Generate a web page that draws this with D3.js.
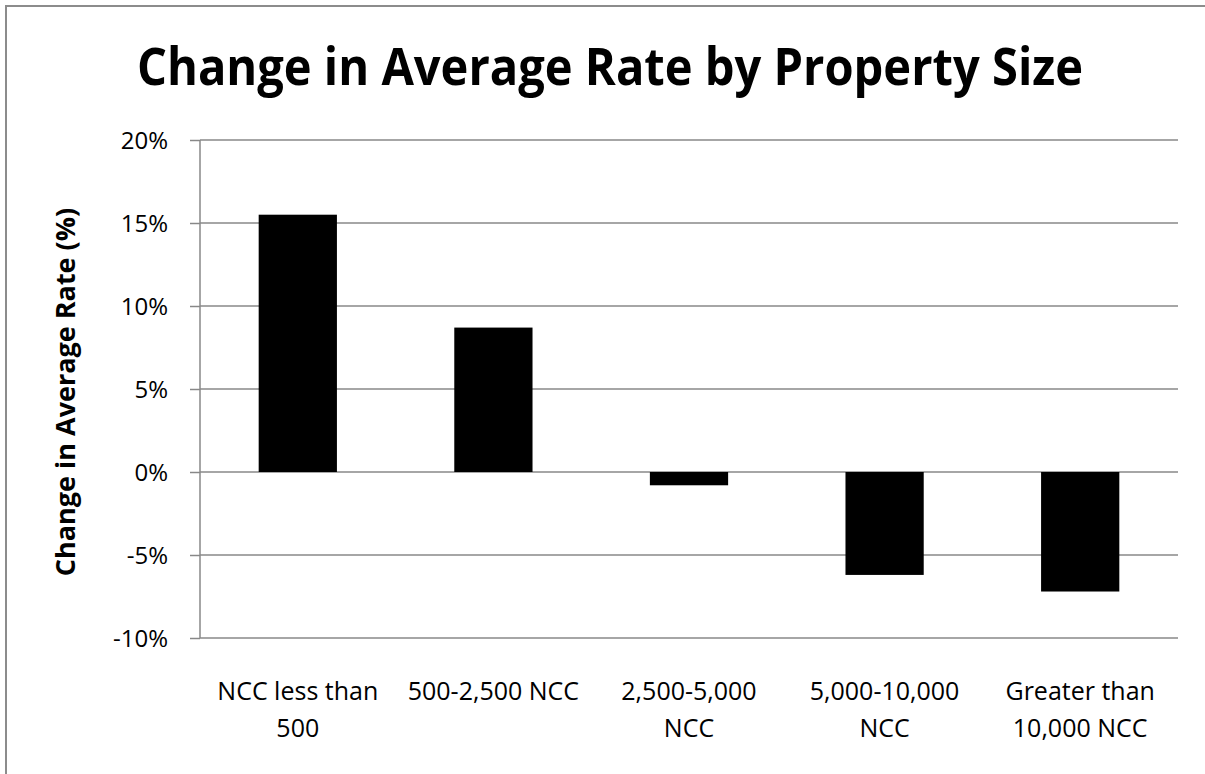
<!DOCTYPE html>
<html>
<head>
<meta charset="utf-8">
<script src="https://cdn.jsdelivr.net/npm/d3@7"></script>
<style>
  html, body { margin: 0; padding: 0; background: #fff; overflow: hidden; }
  svg { display: block; }
</style>
</head>
<body>
<svg id="chart" width="1205" height="774"></svg>
<script>
// Property size groups (each label split into its two display lines)
const categories = [
  ["NCC less than", "500"],
  ["500-2,500 NCC", ""],
  ["2,500-5,000", "NCC"],
  ["5,000-10,000", "NCC"],
  ["Greater than", "10,000 NCC"]
];
// Change in average rate, percent
const changePct = [15.5, 8.7, -0.8, -6.2, -7.2];
// Y axis ticks, percent
const yTicks = [-10, -5, 0, 5, 10, 15, 20];

const svg = d3.select("#chart");
const W = 1205, H = 774;
const plot = { left: 200, right: 1178, top: 140, bottom: 638 };
const gridColor = "#888888";
const font = "'Open Sans', 'Noto Sans', sans-serif";

// chart area frame: top and left edges
svg.append("path")
  .attr("d", `M6,${H}V6H${W}`)
  .attr("fill", "none").attr("stroke", "#8c8c8c").attr("stroke-width", 2);

const x = d3.scaleBand()
  .domain(d3.range(categories.length))
  .range([plot.left, plot.right])
  .paddingInner(0.6)
  .paddingOuter(0.3);

const y = d3.scaleLinear()
  .domain([d3.min(yTicks), d3.max(yTicks)])
  .range([plot.bottom, plot.top]);

// title
svg.append("text")
  .attr("x", 610).attr("y", 85)
  .attr("text-anchor", "middle")
  .attr("font-family", font)
  .attr("font-weight", 700)
  .attr("font-size", 52)
  .attr("textLength", 946)
  .attr("lengthAdjust", "spacingAndGlyphs")
  .attr("fill", "#000")
  .text("Change in Average Rate by Property Size");

// horizontal gridlines
svg.append("g")
  .selectAll("line")
  .data(yTicks)
  .join("line")
  .attr("x1", plot.left).attr("x2", plot.right)
  .attr("y1", d => y(d)).attr("y2", d => y(d))
  .attr("stroke", gridColor).attr("stroke-width", 1.5);

// bars
svg.append("g")
  .selectAll("rect")
  .data(changePct)
  .join("rect")
  .attr("x", (d, i) => x(i))
  .attr("width", x.bandwidth())
  .attr("y", d => y(Math.max(0, d)))
  .attr("height", d => Math.abs(y(d) - y(0)))
  .attr("fill", "#000");

// y axis
const yAxis = d3.axisLeft(y)
  .tickValues(yTicks)
  .tickFormat(d => d + "%")
  .tickSize(10)
  .tickPadding(22);

const gy = svg.append("g")
  .attr("transform", `translate(${plot.left},0)`)
  .call(yAxis);
gy.select(".domain").attr("stroke", gridColor).attr("stroke-width", 1.5)
  .attr("d", `M0,${plot.top}V${plot.bottom}`);
gy.selectAll(".tick line").attr("stroke", gridColor).attr("stroke-width", 1.5);
gy.selectAll(".tick text")
  .attr("font-family", font)
  .attr("font-size", 24)
  .attr("dy", "0.36em")
  .attr("fill", "#000");

// category labels
const labels = svg.append("g")
  .selectAll("text")
  .data(categories)
  .join("text")
  .attr("text-anchor", "middle")
  .attr("font-family", font)
  .attr("font-size", 25)
  .attr("fill", "#000");
labels.selectAll("tspan")
  .data((d, i) => d.map(line => ({ line, i })))
  .join("tspan")
  .attr("x", d => x(d.i) + x.bandwidth() / 2)
  .attr("y", (d, j) => 700 + j * 37)
  .text(d => d.line);

// y axis title
svg.append("text")
  .attr("transform", `translate(75,392) rotate(-90)`)
  .attr("text-anchor", "middle")
  .attr("font-family", font)
  .attr("font-weight", 700)
  .attr("font-size", 27)
  .attr("fill", "#000")
  .text("Change in Average Rate (%)");
</script>
</body>
</html>
